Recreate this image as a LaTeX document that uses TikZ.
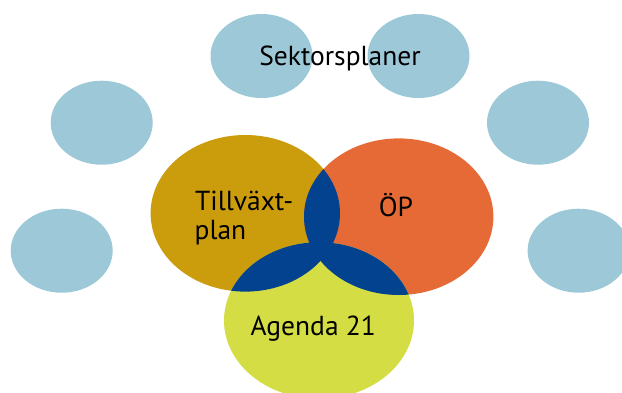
\documentclass[tikz,border=0pt]{standalone}
\usepackage{fontspec}
\setmainfont{PT Sans}
\definecolor{skyb}{HTML}{9DC8D8}
\definecolor{goldc}{HTML}{CB9C0C}
\definecolor{orangec}{HTML}{E66A35}
\definecolor{limec}{HTML}{D4DE44}
\definecolor{navyc}{HTML}{03428E}
\begin{document}
\begin{tikzpicture}[x=1pt,y=-1pt,
  lbl/.style={font=\fontsize{27.5}{28.5}\selectfont, text=black, inner sep=0pt, align=left},
  small/.style={fill=skyb}]
\useasboundingbox (0,0) rectangle (622,392);
\clip (0,0) rectangle (622,392);
% light blue satellites
\fill[small] (261.5,56) ellipse [x radius=51, y radius=42];
\fill[small] (418.5,56) ellipse [x radius=51, y radius=42];
\fill[small] (101.7,122.7) ellipse [x radius=51, y radius=42];
\fill[small] (538,122.7) ellipse [x radius=51, y radius=42];
\fill[small] (61.7,250.7) ellipse [x radius=51, y radius=42];
\fill[small] (578.6,250.7) ellipse [x radius=51, y radius=42];
% main ellipses
\def\gold{(245.3,213.3) ellipse [x radius=94.7, y radius=78.3]}
\def\orng{(398.7,216.7) ellipse [x radius=94.7, y radius=78.3]}
\def\lime{(319,320.5) ellipse [x radius=95, y radius=78.3]}
\fill[goldc] \gold;
\fill[orangec] \orng;
\fill[limec] \lime;
\begin{scope}
  \clip \gold;
  \fill[navyc] \orng;
  \fill[navyc] \lime;
\end{scope}
\begin{scope}
  \clip \orng;
  \fill[navyc] \lime;
\end{scope}
% labels
\node[lbl, anchor=base] (sek) at (340,65) {Sektorsplaner};
\node[lbl, anchor=base west] (till) at (195,210.7) {Tillväxt-};
\node[lbl, anchor=base west] (plan) at (194.5,239.3) {plan};
\node[lbl, anchor=base] (op) at (396,216.7) {ÖP};
\node[lbl, anchor=base] (ag) at (313.3,335.7) {Agenda 21};
\end{tikzpicture}
\end{document}
